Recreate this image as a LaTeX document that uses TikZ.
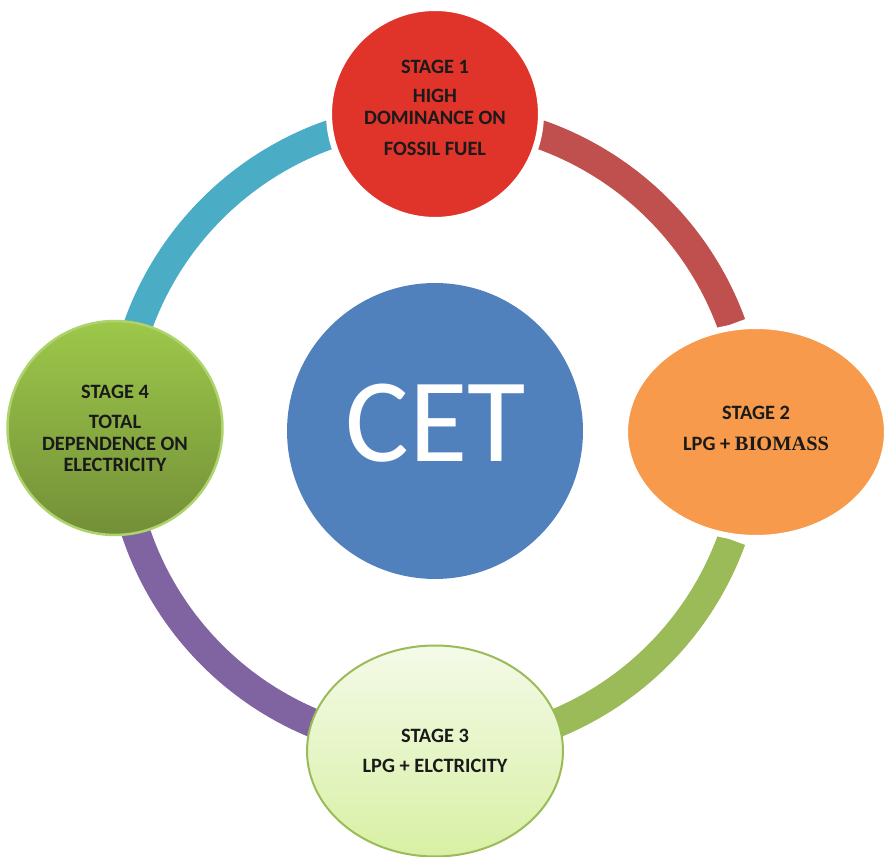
\documentclass[tikz,border=0pt]{standalone}
\usepackage{fontspec}
\setmainfont{Carlito}
\newfontfamily\timesfont{Liberation Serif}
\usetikzlibrary{shapes.geometric}
\definecolor{redfill}{HTML}{E0332A}
\definecolor{orangefill}{HTML}{F79A4B}
\definecolor{cetblue}{HTML}{5181BD}
\definecolor{arcred}{HTML}{C0504D}
\definecolor{arcgreen}{HTML}{9BBB59}
\definecolor{arcpurple}{HTML}{8064A2}
\definecolor{arccyan}{HTML}{4BACC6}
\definecolor{g4top}{HTML}{9DC84A}
\definecolor{g4bot}{HTML}{738F38}
\definecolor{g4line}{HTML}{AFD36C}
\definecolor{g3top}{HTML}{F4FAE8}
\definecolor{g3bot}{HTML}{D8F0A4}
\definecolor{txtdark}{HTML}{1A1A1A}
\tikzset{
  ringarc/.style={line width=0.58cm, line cap=butt},
  stagebox/.style={ellipse, inner sep=0pt},
  stagetext/.style={align=center, text=txtdark, font=\bfseries\fontsize{11.6}{12.5}\selectfont, inner sep=0pt},
}
\begin{document}
\begin{tikzpicture}[x=0.02cm,y=0.02cm]
\useasboundingbox (0,0) rectangle (884,857);
\coordinate (ring) at (435,425);
% ring arcs
\draw[ringarc, arcred]    ([shift={(20:315.5)}]ring) arc[start angle=20, end angle=71.5, radius=315.5];
\draw[ringarc, arccyan]   ([shift={(108.5:315.5)}]ring) arc[start angle=108.5, end angle=172, radius=315.5];
\draw[ringarc, arcpurple] ([shift={(188:315.5)}]ring) arc[start angle=188, end angle=252, radius=315.5];
\draw[ringarc, arcgreen]  ([shift={(288:315.5)}]ring) arc[start angle=288, end angle=340, radius=315.5];
% centre
\node[circle, fill=cetblue, minimum size=5.92cm, inner sep=0pt] (cet) at (435,426) {};
\node[text=white, font=\fontsize{68}{70}\selectfont, inner sep=0pt] (cett) at (436,434) {CET};
% stage 1
\node[stagebox, fill=redfill, draw=white, line width=0.12cm, minimum width=4.24cm, minimum height=4.24cm] (s1) at (435,743) {};
\node[stagetext] (s1t) at (435,749) {STAGE 1\\[3.9pt]HIGH\\DOMINANCE ON\\[5.1pt]FOSSIL FUEL};
% stage 2
\node[stagebox, fill=orangefill, draw=white, line width=0.12cm, minimum width=5.24cm, minimum height=4.24cm] (s2) at (756,425) {};
\node[stagetext] (s2t) at (756,428.5) {STAGE 2\\[5.1pt]LPG + {\timesfont\bfseries BIOMASS}};
% stage 3
\node[stagebox, top color=g3top, bottom color=g3bot, draw=arcgreen, line width=0.04cm, minimum width=5.12cm, minimum height=4.22cm] (s3) at (435,106) {};
\node[stagetext] (s3t) at (435,106) {STAGE 3\\[4.5pt]LPG + ELCTRICITY};
% stage 4
\node[stagebox, top color=g4top, bottom color=g4bot, draw=g4line, line width=0.05cm, minimum width=4.3cm, minimum height=4.28cm] (s4) at (115,429) {};
\node[stagetext] (s4t) at (115,428.5) {STAGE 4\\[4.5pt]TOTAL\\DEPENDENCE ON\\ELECTRICITY};
\end{tikzpicture}
\end{document}
